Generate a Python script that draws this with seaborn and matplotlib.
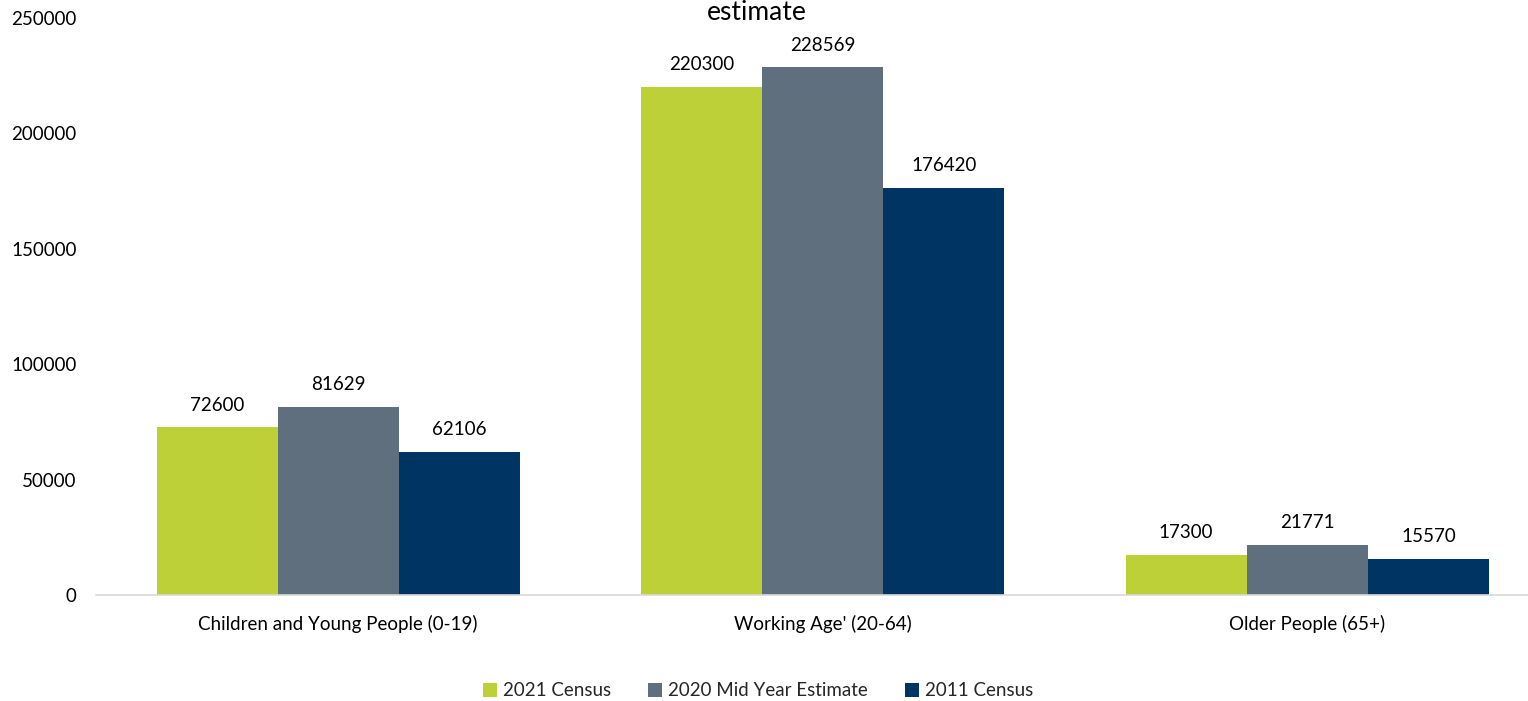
import matplotlib
matplotlib.use("Agg")
import matplotlib.pyplot as plt
import seaborn as sns
import pandas as pd

# Population by age band for three sources
age_groups = ["Children and Young People (0-19)", "Working Age' (20-64)", "Older People (65+)"]
series_names = ["2021 Census", "2020 Mid Year Estimate", "2011 Census"]
census_2021 = [72600, 220300, 17300]
mye_2020 = [81629, 228569, 21771]
census_2011 = [62106, 176420, 15570]
y_ticks = [0, 50000, 100000, 150000, 200000, 250000]

colors = ["#BDD037", "#5F6F7E", "#003462"]

rows = []
for name, vals in zip(series_names, [census_2021, mye_2020, census_2011]):
    for grp, v in zip(age_groups, vals):
        rows.append({"group": grp, "series": name, "value": v})
df = pd.DataFrame(rows)

sns.set_theme(style="white")
plt.rcParams["font.family"] = ["Lato", "DejaVu Sans"]

fig = plt.figure(figsize=(15.28, 7.01), dpi=100)
W, H = 1528, 701
ax = fig.add_axes([96 / W, 1 - 595 / H, (1549.5 - 96) / W, (595 - 18) / H])

sns.barplot(data=df, x="group", y="value", hue="series", order=age_groups,
            hue_order=series_names, palette=colors, width=0.75, gap=0,
            saturation=1, errorbar=None, linewidth=0, ax=ax)

for cont in ax.containers:
    ax.bar_label(cont, fmt="%d", padding=10, fontsize=13.5, color="#000000")

ax.set_ylim(0, 250000)
ax.set_xlim(-0.5, 2.5)
ax.set_yticks(y_ticks)
ax.set_yticklabels([str(t) for t in y_ticks])
ax.set_xlabel("")
ax.set_ylabel("")
ax.tick_params(axis="both", length=0, labelsize=13.5, colors="#000000")
ax.tick_params(axis="y", pad=14)
ax.tick_params(axis="x", pad=14)
for side in ["top", "right", "left"]:
    ax.spines[side].set_visible(False)
ax.spines["bottom"].set_color("#D9D9D9")
ax.spines["bottom"].set_linewidth(1.2)
ax.grid(False)

handles, labels = ax.get_legend_handles_labels()
ax.legend_.remove()
fig.legend(handles, labels, loc="center", bbox_to_anchor=(758 / W, 1 - 691 / H),
           ncol=3, frameon=False, fontsize=13.5, handlelength=0.75, handleheight=0.75,
           handletextpad=0.3, columnspacing=2.0)

fig.text(757 / W, 1 - 12 / H, "estimate", ha="center", va="center", fontsize=19, color="#000000")

fig.savefig("out.png", dpi=100)
